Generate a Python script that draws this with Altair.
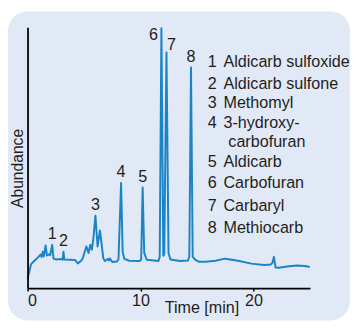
import altair as alt
import pandas as pd

# Chromatogram trace (retention time in min, abundance in arbitrary units)
time_min = [0.00, 0.30, 0.59, 0.88, 1.17, 1.25, 1.35, 1.45, 1.60, 1.72, 1.90, 2.00,
            2.18, 2.30, 2.55, 3.00, 3.10, 3.18, 3.26, 4.20, 4.45, 4.75, 4.90, 5.20,
            5.40, 5.55, 5.69, 5.83, 6.01, 6.12, 6.20, 6.41, 6.55, 6.70, 6.84, 7.10,
            7.20, 7.28, 7.50, 7.90, 8.05, 8.28, 8.42, 8.57, 9.00, 9.95, 10.06, 10.19,
            10.33, 10.55, 11.59, 11.70, 11.85, 12.02, 12.10, 12.30, 12.48, 12.65, 13.50,
            14.20, 14.32, 14.47, 14.62, 14.90, 15.19, 15.77, 16.63, 17.49, 18.64, 19.80,
            20.95, 21.53, 21.67, 21.81, 21.96, 22.25, 22.96, 23.83, 24.55, 24.98]
abundance = [3.5, 9.1, 10.4, 11.6, 12.9, 11.9, 14.0, 12.2, 16.4, 12.5, 13.0, 12.6,
             16.6, 11.3, 11.0, 11.2, 10.9, 14.0, 11.0, 10.8, 9.5, 10.5, 11.6, 16.0,
             13.5, 16.6, 14.7, 19.1, 27.8, 20.9, 16.0, 22.1, 17.2, 11.6, 10.4, 11.2,
             10.6, 11.4, 10.0, 10.2, 11.0, 40.3, 14.0, 11.2, 10.5, 10.4, 11.0, 38.6,
             13.5, 10.9, 10.4, 12.0, 99.6, 12.4, 13.0, 90.3, 13.5, 11.0, 10.4,
             10.6, 12.0, 84.6, 12.0, 10.7, 10.1, 10.1, 10.5, 11.3, 10.5, 9.4,
             8.9, 9.1, 9.6, 12.0, 7.9, 7.8, 8.3, 8.7, 8.5, 8.1]

peak_ids = ["1", "2", "3", "4", "5", "6", "7", "8"]
peak_times = [2.18, 3.18, 6.01, 8.28, 10.19, 11.85, 12.30, 14.47]
peak_heights = [16.6, 14.0, 27.8, 40.3, 38.6, 99.6, 90.3, 84.6]

legend_numbers = ["1", "2", "3", "4", "", "5", "6", "7", "8"]
legend_names = ["Aldicarb sulfoxide", "Aldicarb sulfone", "Methomyl", "3-hydroxy-",
                "carbofuran", "Aldicarb", "Carbofuran", "Carbaryl", "Methiocarb"]

FONT = "'Liberation Sans Narrow', 'Arial Narrow', 'Nimbus Sans Narrow', 'Liberation Sans', sans-serif"
TXT = "#1e1e1e"
LINE = "#1a84c7"

trace = pd.DataFrame({"t": time_min, "a": abundance})
peaks = pd.DataFrame({"id": peak_ids, "t": peak_times, "h": peak_heights})

panel = alt.Chart(pd.DataFrame({"k": [0]})).mark_rect(
    color="#e2e9f6", cornerRadius=20, clip=False
).encode(x=alt.value(-20), x2=alt.value(330), y=alt.value(-16), y2=alt.value(300))

xs = alt.X("t:Q", scale=alt.Scale(domain=[0, 25], nice=False, zero=False),
           axis=alt.Axis(values=[0, 10, 20], title="Time [min]", grid=False, zindex=1,
                         domainColor="black", domainWidth=1.8, tickColor="black",
                         tickSize=3, tickWidth=1.5, labelPadding=2, labelFontSize=16.5,
                         labelFont=FONT, labelColor=TXT, titleFont=FONT, titleFontSize=16.5,
                         titleFontWeight="normal", titleColor=TXT, titleX=178, titleY=25,
                         titleAlign="center", titleBaseline="alphabetic"))
ys = alt.Y("a:Q", scale=alt.Scale(domain=[0, 100], nice=False),
           axis=alt.Axis(title="Abundance", grid=False, ticks=False, labels=False, zindex=1,
                         domainColor="black", domainWidth=1.8, titleFont=FONT,
                         titleFontSize=16, titleFontWeight="normal", titleColor=TXT,
                         titleAngle=270, titleX=-10.5, titleY=144, titleAlign="center",
                         titleBaseline="middle"))

line = alt.Chart(trace).mark_line(color=LINE, strokeWidth=2, strokeJoin="round").encode(x=xs, y=ys)

lab_common = dict(font=FONT, fontSize=16.5, color=TXT, baseline="middle", align="center")
labels = alt.Chart(peaks).transform_filter(
    "datum.id != '6' && datum.id != '7'"
).mark_text(dy=-11, **lab_common).encode(x="t:Q", y="h:Q", text="id:N")
label6 = alt.Chart(peaks).transform_filter("datum.id == '6'").mark_text(
    dx=-8, dy=7, **lab_common).encode(x="t:Q", y="h:Q", text="id:N")
label7 = alt.Chart(peaks).transform_filter("datum.id == '7'").mark_text(
    dx=5, dy=-8, **lab_common).encode(x="t:Q", y="h:Q", text="id:N")

legend_y = [36, 57.7, 77.7, 97.7, 117.7, 137.7, 160, 183.3, 206]
leg_layers = []
one = pd.DataFrame({"k": [0]})
for num, name, yy in zip(legend_numbers, legend_names, legend_y):
    indent = 5 if num == "" else 0
    if num:
        leg_layers.append(alt.Chart(one).mark_text(
            font=FONT, fontSize=16.5, color=TXT, align="left", baseline="middle"
        ).encode(x=alt.value(184.5), y=alt.value(yy), text=alt.value(num)))
    leg_layers.append(alt.Chart(one).mark_text(
        font=FONT, fontSize=16.5, color=TXT, align="left", baseline="middle"
    ).encode(x=alt.value(200.5 + indent), y=alt.value(yy), text=alt.value(name)))

chart = alt.layer(panel, line, labels, label6, label7, *leg_layers).properties(
    width=289, height=267,
    autosize=alt.AutoSizeParams(type="none"),
    padding={"left": 20, "top": 16, "right": 42, "bottom": 33},
    background="white",
).configure_view(strokeWidth=0)

chart.save("out.html", embed_options={"renderer": "svg", "actions": False})
